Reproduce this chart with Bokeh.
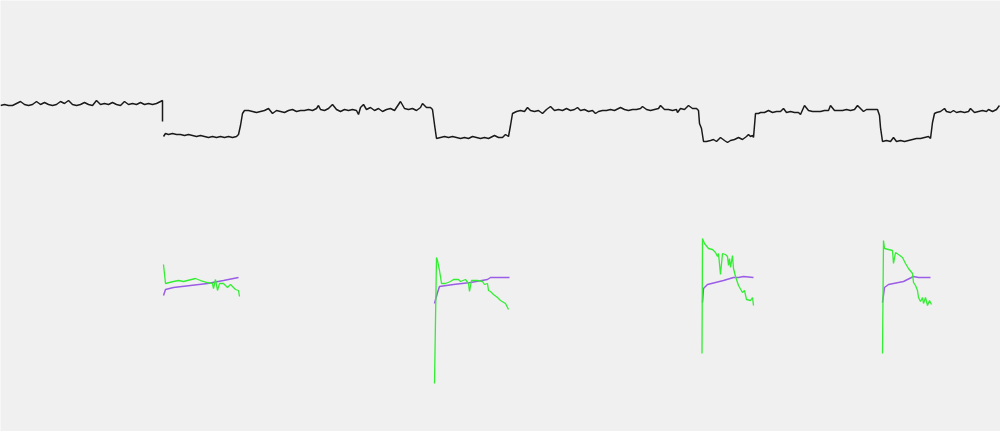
from bokeh.plotting import figure
from bokeh.models import Range1d
from bokeh.embed import file_html
from bokeh.resources import INLINE

nan = float("nan")

# Black trace (x, level) - lower numbers sit higher on the chart (reversed y range)
black_x = [0, 4, 8, 12, 16, 20, 24, 28, 32, 36, 40, 44, 48, 52, 56, 60, 64, 68, 72, 76,
           80, 84, 88, 92, 96, 100, 104, 108, 112, 116, 120, 124, 128, 132, 136, 140, 144, 148, 152, 156,
           160, 162, 162, 162.5,
           163, 165, 168, 172, 176, 180, 184, 188, 192, 196, 200, 204, 208, 212, 216, 220, 224, 228, 232, 236,
           238, 240, 242,
           244, 248, 252, 256, 260, 264, 268, 272, 276, 280, 284, 288, 292, 296, 300, 304, 308, 312, 316, 318,
           320, 324, 328, 332, 336, 340, 344, 348, 352, 356, 358, 360, 363, 366, 370, 374, 378, 382, 386, 390,
           394, 398, 400, 404, 408, 412, 416, 420, 422, 426, 430, 432, 434, 436,
           440, 444, 448, 452, 456, 460, 464, 468, 472, 476, 480, 484, 488, 492, 494, 498, 502, 505, 508, 510,
           512, 516, 520, 524, 527, 530, 534, 538, 542, 546, 550, 554, 558, 562, 566, 570, 574, 577, 580, 584,
           588, 592, 595, 598, 602, 606, 610, 614, 618, 620, 624, 628, 632, 636, 640, 642, 646, 650, 654, 658,
           660, 664, 668, 672, 676, 677, 680, 684, 688, 692, 696, 698, 699, 701, 703,
           706, 710, 713, 716, 720, 724, 727, 730, 734, 738, 742, 746, 748, 750, 752, 753, 755, 758,
           760, 764, 768, 772, 776, 780, 783, 786, 790, 794, 798, 800, 804, 808, 812, 816, 820, 824, 828, 830,
           834, 838, 842, 846, 850, 854, 857, 860, 863, 866, 870, 874, 877, 879, 880, 882,
           886, 890, 893, 896, 900, 904, 908, 912, 916, 920, 924, 928, 930, 932, 934,
           936, 940, 944, 946, 950, 953, 956, 960, 964, 968, 970, 974, 978, 982, 986, 988, 992, 996, 999]
black_y = [105, 104, 105, 105, 103, 101, 104, 105, 104, 101, 104, 102, 104, 105, 104, 101, 103, 100, 104, 105,
           104, 102, 104, 105, 100, 104, 103, 104, 102, 104, 105, 101, 104, 103, 104, 102, 104, 103, 104, 103,
           101, 100, 121, nan,
           136, 133, 134, 133, 134, 134, 135, 134, 135, 136, 135, 136, 137, 136, 137, 136, 137, 136, 137, 136,
           134, 125, 113,
           110, 110, 111, 112, 111, 110, 108, 113, 110, 111, 112, 110, 109, 111, 110, 110, 109, 110, 108, 105,
           109, 110, 108, 104, 109, 111, 109, 110, 109, 110, 114, 107, 104, 109, 107, 110, 108, 111, 109, 108,
           110, 104, 101, 108, 109, 108, 110, 107, 103, 107, 107, 109, 124, 138,
           137, 136, 137, 136, 137, 138, 137, 138, 136, 137, 138, 137, 138, 136, 135, 137, 137, 134, 136, 125,
           113, 111, 110, 111, 107, 110, 111, 110, 113, 109, 106, 110, 109, 110, 108, 110, 109, 107, 110, 109,
           111, 110, 113, 111, 110, 110, 109, 110, 108, 107, 109, 110, 109, 109, 108, 106, 109, 110, 109, 108,
           105, 109, 109, 110, 109, 112, 108, 109, 105, 108, 108, 110, 123, 128, 141,
           141, 140, 139, 141, 137, 140, 142, 140, 139, 137, 139, 136, 134, 136, 135, 137, 113, 113,
           112, 112, 110, 112, 111, 111, 108, 112, 111, 112, 112, 114, 105, 110, 111, 111, 111, 110, 110, 105,
           110, 110, 110, 109, 110, 109, 105, 108, 111, 109, 109, 109, 109, 115, 127, 141,
           140, 141, 137, 141, 140, 141, 140, 139, 138, 138, 137, 136, 138, 122, 113,
           112, 111, 108, 111, 112, 110, 112, 111, 112, 111, 108, 112, 111, 110, 111, 109, 111, 109, 105]

# Green traces, four bursts
green_x = [163, 165, 173, 178, 183, 195, 200, 207, 212, 213, 215, 217, 219, 223, 227, 230, 235, 238, 239, nan,
           434, 436, 437, 439, 441, 445, 450, 453, 458, 460, 465, 468, 469, 471, 477, 482, 484, 487, 488, 490,
           493, 497, 500, 505, 508, nan,
           701.5, 702, 704, 708, 712, 715, 717, 718, 720, 722, 725, 727, 728, 729, 730, 732, 733, 735, 738, 742,
           744, 746, 750, 752, 753, nan,
           882, 883, 884, 888, 892, 893, 895, 898, 902, 905, 908, 912, 913, 915, 917, 918, 920, 922, 923, 925,
           927, 929, 931]
green_y = [264, 283, 281, 280, 281, 278, 280, 282, 283, 288, 279, 290, 283, 283, 287, 284, 289, 290, 296, nan,
           383, 257, 260, 270, 283, 283, 281, 279, 279, 281, 279, 283, 291, 280, 280, 281, 284, 283, 290, 291,
           294, 297, 300, 303, 309, nan,
           353, 238, 243, 248, 249, 252, 256, 253, 274, 253, 254, 256, 265, 258, 267, 255, 268, 276, 285, 292,
           290, 299, 300, 297, 305, nan,
           353, 240, 248, 249, 250, 263, 252, 254, 257, 263, 268, 273, 282, 285, 290, 297, 301, 297, 303, 297,
           305, 300, 304]

# Purple traces, four bursts
purple_x = [163, 165, 173, 190, 207, 223, 238, nan,
            434, 437, 439, 453, 470, 487, 490, 497, 505, 509, nan,
            702, 703, 707, 723, 733, 738, 743, 753, nan,
            882, 884, 888, 903, 913, 918, 930]
purple_y = [295, 289, 287, 285, 283, 280, 277, nan,
            303, 292, 286, 284, 282, 279, 277, 277, 277, 277, nan,
            302, 288, 284, 280, 277, 277, 276, 277, nan,
            302, 287, 284, 281, 276, 277, 277]

BG = "#f0f0f0"
p = figure(width=1000, height=431, output_backend="svg", toolbar_location=None,
           x_range=Range1d(0, 1000), y_range=Range1d(431, 0),
           x_axis_location=None, y_axis_location=None,
           background_fill_color=BG, border_fill_color=BG, min_border=0)
p.grid.visible = False
p.outline_line_color = None

p.line(black_x, black_y, line_color="#1a1a1a", line_width=1.5)
p.line(purple_x, purple_y, line_color="#9b5de5", line_width=1.5)
p.line(green_x, green_y, line_color="#33ee33", line_width=1.3)

open("out.html", "w").write(file_html(p, INLINE))
